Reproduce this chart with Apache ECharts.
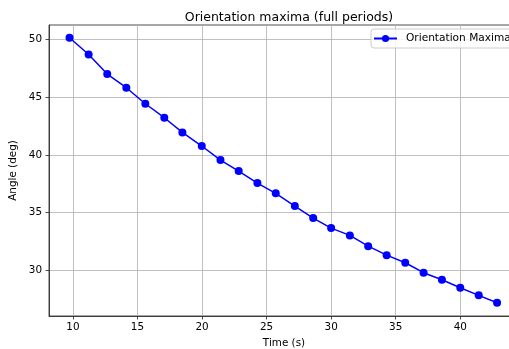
<!DOCTYPE html>
<html>
<head>
<meta charset="utf-8">
<script src="https://cdn.jsdelivr.net/npm/echarts@6/dist/echarts.min.js"></script>
<style>html,body{margin:0;padding:0;background:#fff;overflow:hidden}#c{width:509px;height:349px}</style>
</head>
<body>
<div id="c"></div>
<script>
const timeValues = [9.74, 11.22, 12.66, 14.14, 15.61, 17.08, 18.48, 19.98, 21.43, 22.84, 24.29, 25.71, 27.19, 28.61, 30.0, 31.45, 32.87, 34.3, 35.74, 37.16, 38.58, 40.0, 41.43, 42.85];
const angleValues = [50.15, 48.70, 47.0, 45.82, 44.43, 43.22, 41.95, 40.77, 39.55, 38.6, 37.56, 36.67, 35.57, 34.53, 33.66, 33.03, 32.10, 31.32, 30.66, 29.8, 29.19, 28.5, 27.84, 27.2];
const xTicks = [10, 15, 20, 25, 30, 35, 40];
const yTicks = [30, 35, 40, 45, 50];
const seriesName = 'Orientation Maxima';

const font = 'DejaVu Sans';
const chart = echarts.init(document.getElementById('c'), null, {renderer: 'canvas'});
chart.setOption({
  animation: false,
  backgroundColor: '#fff',
  title: {
    text: 'Orientation maxima (full periods)',
    left: 284, top: 6, textAlign: 'center',
    textStyle: {fontFamily: font, fontSize: 12.5, fontWeight: 'normal', color: '#000'}
  },
  legend: {
    left: 371, top: 29,
    padding: [4, 2],
    itemWidth: 23, itemHeight: 9,
    backgroundColor: 'rgba(255,255,255,0.8)',
    borderColor: '#cccccc', borderWidth: 1, borderRadius: 3,
    textStyle: {fontFamily: font, fontSize: 10.6, color: '#000', padding: [0, 0, 0, 4]},
    data: [seriesName]
  },
  grid: {
    left: 49, top: 25, width: 470, height: 291,
    outerBoundsMode: 'none',
    show: true, borderColor: '#222', borderWidth: 0.8, backgroundColor: 'transparent',
    containLabel: false
  },
  xAxis: {
    type: 'value', min: 8.15, max: 44.55,
    name: 'Time (s)', nameLocation: 'middle', nameGap: 22,
    nameTextStyle: {fontFamily: font, fontSize: 10.4, color: '#000'},
    axisLine: {show: true, onZero: false, lineStyle: {color: '#222', width: 0.8}},
    axisTick: {show: true, length: 3.5, lineStyle: {color: '#222', width: 0.8}, customValues: xTicks},
    axisLabel: {fontFamily: font, fontSize: 10.4, color: '#000', margin: 6, customValues: xTicks},
    splitLine: {show: true, lineStyle: {color: '#b0b0b0', width: 0.8}}
  },
  yAxis: {
    type: 'value', min: 26.05, max: 51.25,
    name: 'Angle (deg)', nameLocation: 'middle', nameGap: 24,
    nameTextStyle: {fontFamily: font, fontSize: 10.4, color: '#000'},
    axisLine: {show: true, onZero: false, lineStyle: {color: '#222', width: 0.8}},
    axisTick: {show: true, length: 3.5, lineStyle: {color: '#222', width: 0.8}, customValues: yTicks},
    axisLabel: {fontFamily: font, fontSize: 10.4, color: '#000', margin: 7, customValues: yTicks},
    splitLine: {show: true, lineStyle: {color: '#b0b0b0', width: 0.8}}
  },
  series: [{
    name: seriesName,
    type: 'line',
    data: timeValues.map((t, i) => [t, angleValues[i]]),
    symbol: 'circle', symbolSize: 8,
    showAllSymbol: true,
    lineStyle: {color: '#0000ff', width: 1.5},
    itemStyle: {color: '#0000ff'},
    color: '#0000ff'
  }]
});
</script>
</body>
</html>
